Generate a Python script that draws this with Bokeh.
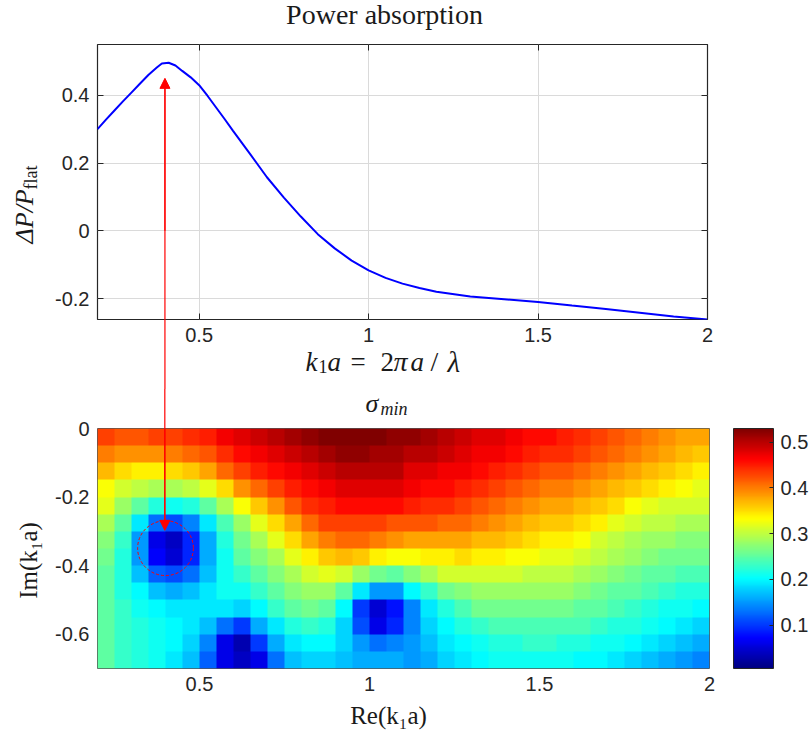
import numpy as np
from bokeh.plotting import figure
from bokeh.layouts import column
from bokeh.core.properties import value
from bokeh.models import (LinearAxis, FixedTicker, LinearColorMapper, ColorBar,
                          Arrow, NormalHead, Range1d)
from bokeh.embed import file_html
from bokeh.resources import INLINE

# ---------------- data ----------------
# top panel: power absorption curve
k1a = [0.200, 0.225, 0.250, 0.275, 0.300, 0.325, 0.350, 0.375, 0.390, 0.410,
       0.430, 0.450, 0.475, 0.500, 0.525, 0.550, 0.575, 0.600, 0.650, 0.700,
       0.750, 0.800, 0.850, 0.900, 0.950, 1.000, 1.050, 1.100, 1.150, 1.200,
       1.300, 1.400, 1.500, 1.600, 1.700, 1.800, 1.900, 2.000]
dP = [0.300, 0.328, 0.355, 0.382, 0.408, 0.434, 0.460, 0.482, 0.494, 0.496,
      0.488, 0.472, 0.453, 0.430, 0.398, 0.364, 0.330, 0.295, 0.227, 0.158,
      0.098, 0.042, -0.010, -0.052, -0.088, -0.117, -0.139, -0.156, -0.169, -0.180,
      -0.194, -0.202, -0.210, -0.221, -0.231, -0.242, -0.253, -0.262]
top_x_range = [0.2, 2.0]
top_y_range = [-0.262, 0.55]
top_xticks = [0.5, 1.0, 1.5, 2.0]
top_xtick_labels = ["0.5", "1", "1.5", "2"]
top_yticks = [-0.2, 0.0, 0.2, 0.4]
top_ytick_labels = ["-0.2", "0", "0.2", "0.4"]

# bottom panel: sigma_min over the complex k1a plane
re_extent = [0.2, 2.0]
im_extent = [-0.7, 0.0]
# rows from Im = -0.025 (top) down to Im = -0.675 (bottom), Re from 0.225 to 1.975
sigma_rows = [
    [0.43,0.42,0.42,0.43,0.43,0.44,0.45,0.47,0.48, 0.49,0.50,0.51,0.52,0.53,0.53,0.53,0.53,0.52,
     0.52,0.51,0.50,0.49,0.48,0.48,0.47,0.46,0.46, 0.45,0.44,0.43,0.42,0.41,0.40,0.39,0.38,0.38],
    [0.40,0.39,0.39,0.39,0.40,0.41,0.42,0.44,0.46, 0.47,0.48,0.49,0.50,0.51,0.52,0.52,0.51,0.51,
     0.50,0.50,0.49,0.48,0.47,0.47,0.46,0.45,0.44, 0.44,0.43,0.42,0.41,0.40,0.39,0.38,0.37,0.36],
    [0.37,0.35,0.34,0.34,0.35,0.36,0.38,0.41,0.43, 0.45,0.46,0.47,0.48,0.49,0.50,0.50,0.50,0.50,
     0.48,0.48,0.47,0.47,0.46,0.45,0.44,0.43,0.42, 0.42,0.41,0.40,0.39,0.38,0.37,0.36,0.35,0.34],
    [0.33,0.31,0.30,0.29,0.29,0.30,0.32,0.35,0.39, 0.41,0.43,0.45,0.46,0.47,0.48,0.48,0.48,0.48,
     0.47,0.46,0.46,0.45,0.44,0.43,0.42,0.41,0.40, 0.40,0.39,0.38,0.37,0.36,0.35,0.34,0.33,0.32],
    [0.32,0.28,0.25,0.22,0.21,0.22,0.25,0.29,0.33, 0.36,0.39,0.42,0.44,0.45,0.46,0.46,0.46,0.46,
     0.45,0.44,0.44,0.43,0.42,0.41,0.40,0.39,0.38, 0.38,0.37,0.36,0.35,0.33,0.32,0.31,0.31,0.31],
    [0.29,0.25,0.19,0.13,0.11,0.14,0.19,0.24,0.28, 0.32,0.35,0.38,0.41,0.43,0.43,0.43,0.43,0.42,
     0.42,0.42,0.41,0.41,0.40,0.39,0.38,0.37,0.36, 0.36,0.35,0.34,0.32,0.31,0.30,0.30,0.29,0.29],
    [0.27,0.23,0.15,0.06,0.04,0.09,0.16,0.22,0.26, 0.29,0.32,0.35,0.38,0.40,0.41,0.41,0.40,0.39,
     0.38,0.38,0.38,0.38,0.37,0.37,0.36,0.35,0.34, 0.34,0.33,0.31,0.30,0.29,0.28,0.28,0.27,0.27],
    [0.26,0.22,0.15,0.07,0.05,0.09,0.16,0.21,0.25, 0.27,0.29,0.32,0.34,0.36,0.37,0.36,0.34,0.33,
     0.33,0.34,0.34,0.35,0.34,0.34,0.33,0.33,0.32, 0.32,0.31,0.30,0.29,0.28,0.27,0.26,0.26,0.26],
    [0.25,0.22,0.17,0.12,0.11,0.13,0.17,0.21,0.23, 0.25,0.27,0.29,0.31,0.32,0.31,0.28,0.26,0.25,
     0.27,0.29,0.31,0.31,0.31,0.31,0.31,0.30,0.30, 0.30,0.29,0.28,0.27,0.26,0.25,0.25,0.24,0.24],
    [0.25,0.22,0.20,0.17,0.16,0.17,0.19,0.21,0.21, 0.23,0.25,0.27,0.28,0.28,0.25,0.19,0.15,0.15,
     0.20,0.23,0.26,0.27,0.28,0.28,0.28,0.28,0.28, 0.28,0.27,0.26,0.25,0.25,0.24,0.23,0.22,0.22],
    [0.25,0.23,0.21,0.20,0.19,0.19,0.19,0.19,0.18, 0.20,0.23,0.25,0.26,0.25,0.20,0.10,0.05,0.08,
     0.14,0.19,0.22,0.24,0.26,0.26,0.26,0.26,0.26, 0.26,0.25,0.25,0.24,0.23,0.22,0.21,0.21,0.20],
    [0.25,0.23,0.22,0.21,0.20,0.19,0.17,0.13,0.10, 0.16,0.19,0.22,0.23,0.22,0.18,0.11,0.06,0.09,
     0.14,0.18,0.20,0.22,0.23,0.24,0.24,0.24,0.24, 0.24,0.24,0.23,0.22,0.22,0.21,0.20,0.19,0.18],
    [0.25,0.23,0.22,0.21,0.20,0.18,0.14,0.06,0.03, 0.10,0.16,0.19,0.20,0.20,0.18,0.15,0.13,0.14,
     0.15,0.17,0.19,0.20,0.21,0.22,0.22,0.23,0.23, 0.22,0.22,0.21,0.21,0.20,0.19,0.18,0.17,0.16],
    [0.25,0.23,0.22,0.21,0.19,0.17,0.12,0.06,0.04, 0.06,0.13,0.17,0.18,0.18,0.17,0.16,0.16,0.16,
     0.15,0.16,0.18,0.19,0.20,0.21,0.21,0.21,0.21, 0.21,0.20,0.20,0.19,0.18,0.17,0.16,0.15,0.14],
]
sigma_range = [0.005, 0.53]
bot_xticks = [0.5, 1.0, 1.5, 2.0]
bot_xtick_labels = ["0.5", "1", "1.5", "2"]
bot_yticks = [0.0, -0.2, -0.4, -0.6]
bot_ytick_labels = ["0", "-0.2", "-0.4", "-0.6"]
cb_ticks = [0.1, 0.2, 0.3, 0.4, 0.5]
cb_tick_labels = ["0.1", "0.2", "0.3", "0.4", "0.5"]

# ---------------- layout / style ----------------
SANS = "Liberation Sans"
SERIF = "Liberation Serif"
INK = "#262626"
TXT = "#1a1a1a"
TICK_PX = "20px"
RED = "#ff0000"
BASE_FIX = 9  # svg text baseline correction (pixels)

# top figure frame (page pixels)
L1, T1, W1, H1, B1, R1 = 97, 44, 610, 275, 70, 98
# bottom figure frame (page pixels)
L2, T2, W2, H2, B2, R2 = 97, 428, 612, 240, 66, 100
TOP_H = T1 + H1 + B1


def jet_palette(n=256):
    cols = []
    for i in range(n):
        t = i / (n - 1)
        r = min(max(1.5 - abs(4 * t - 3), 0), 1)
        g = min(max(1.5 - abs(4 * t - 2), 0), 1)
        b = min(max(1.5 - abs(4 * t - 1), 0), 1)
        cols.append("#%02x%02x%02x" % (int(round(r * 255)), int(round(g * 255)), int(round(b * 255))))
    return cols


def style_axis(ax, ticks, labels, tick_in):
    ax.ticker = FixedTicker(ticks=ticks)
    ax.major_label_overrides = {t: l for t, l in zip(ticks, labels)}
    ax.minor_tick_line_color = None
    ax.major_tick_in = tick_in
    ax.major_tick_out = 0
    ax.major_tick_line_color = INK
    ax.axis_line_color = None
    ax.major_label_text_font = SANS
    ax.major_label_text_font_size = TICK_PX
    ax.major_label_text_color = INK
    ax.major_label_standoff = 8


def page_text(p, xr, yr, frame, px, py, text, size, style="normal", angle=0.0, align="left"):
    """Text with its baseline at page pixel (px, py), anchored on the frame centre via pixel offsets."""
    L, T, W, H = frame
    cx, cy = L + W / 2, T + H / 2
    if angle:
        px -= BASE_FIX
    else:
        py -= BASE_FIX
    r = p.text(x=[(xr[0] + xr[1]) / 2], y=[(yr[0] + yr[1]) / 2], text=[text],
               x_offset=px - cx, y_offset=py - cy, angle=angle,
               text_font=value(SERIF), text_font_size=value(size),
               text_font_style=value(style), text_color=TXT,
               text_align=value(align), text_baseline=value("alphabetic"))
    r.level = "overlay"
    return r


# ---------------- top figure ----------------
p1 = figure(frame_width=W1, frame_height=H1,
            min_border_left=L1, min_border_right=R1, min_border_top=T1,
            min_border_bottom=B1,
            x_range=Range1d(*top_x_range), y_range=Range1d(*top_y_range),
            output_backend="svg", toolbar_location=None, title=None)
p1.background_fill_color = "white"
p1.border_fill_color = "white"
p1.outline_line_color = INK
p1.outline_line_width = 1.2
style_axis(p1.xaxis[0], top_xticks, top_xtick_labels, 6)
style_axis(p1.yaxis[0], top_yticks, top_ytick_labels, 6)
p1.xgrid.ticker = FixedTicker(ticks=top_xticks)
p1.ygrid.ticker = FixedTicker(ticks=top_yticks)
p1.grid.grid_line_color = "#dadada"
p1.grid.grid_line_width = 1

for side, ticks in (("above", top_xticks), ("right", top_yticks)):
    ax = LinearAxis()
    style_axis(ax, ticks, ["" for _ in ticks], 6)
    ax.major_label_text_font_size = "0px"
    ax.major_label_standoff = 0
    p1.add_layout(ax, side)

p1.line(k1a, dP, line_color="#0000ff", line_width=2)

f1 = (L1, T1, W1, H1)
page_text(p1, top_x_range, top_y_range, f1, 384, 23, "Power absorption", "28px", align="center")
# x label  k1a = 2πa/λ
for px, py, s, size, style in ((305, 370, "k", "27px", "italic"), (318, 375, "1", "18px", "normal"),
                               (327, 370, "a", "27px", "italic"), (350, 370, "=", "27px", "normal"),
                               (380, 370, "2", "27px", "normal"), (393, 370, "π", "28px", "italic"),
                               (410, 370, "a", "27px", "italic"), (430, 370, "/", "28px", "normal"),
                               (447, 370, "λ", "29px", "italic")):
    page_text(p1, top_x_range, top_y_range, f1, px, py, s, size, style=style)
# y label  ΔP/P_flat
page_text(p1, top_x_range, top_y_range, f1, 33, 243, "ΔP/P", "26px", style="italic", angle=np.pi / 2)
page_text(p1, top_x_range, top_y_range, f1, 39, 189, "flat", "18px", angle=np.pi / 2)

# marker line linking the absorption peak to the resonance in the lower panel
ARROW_X_TOP, ARROW_TIP_TOP = 0.399, 0.45
ARROW_X_BOT, ARROW_TIP_BOT = 0.398, -0.297
head = dict(size=10, fill_color=RED, line_color=RED, line_width=1)
seg1 = p1.segment(x0=[ARROW_X_TOP], y0=[ARROW_TIP_TOP - 0.01], x1=[ARROW_X_TOP], y1=[-0.8],
                  line_color=RED, line_width=1.2)
seg1.level = "overlay"
p1.add_layout(Arrow(end=NormalHead(**head), x_start=ARROW_X_TOP, y_start=0.0,
                    x_end=ARROW_X_TOP, y_end=ARROW_TIP_TOP, line_color=RED, line_width=1.2))

# ---------------- bottom figure ----------------
mapper = LinearColorMapper(palette=jet_palette(), low=sigma_range[0], high=sigma_range[1])
img = np.array(sigma_rows[::-1], dtype=float)

p2 = figure(frame_width=W2, frame_height=H2,
            min_border_left=L2, min_border_right=R2, min_border_top=T2 - TOP_H,
            min_border_bottom=B2,
            x_range=Range1d(*re_extent), y_range=Range1d(*im_extent),
            output_backend="svg", toolbar_location=None, title=None)
p2.background_fill_color = "white"
p2.border_fill_color = "white"
p2.outline_line_color = "#555555"
p2.outline_line_width = 1
p2.grid.grid_line_color = None
style_axis(p2.xaxis[0], bot_xticks, bot_xtick_labels, 0)
style_axis(p2.yaxis[0], bot_yticks, bot_ytick_labels, 0)

p2.image(image=[img], x=re_extent[0], y=im_extent[0],
         dw=re_extent[1] - re_extent[0], dh=im_extent[1] - im_extent[0], color_mapper=mapper)

p2.ellipse(x=0.40, y=-0.349, width=0.164, height=0.16, fill_color=None,
           line_color=RED, line_width=1, line_dash="3 2")
seg2 = p2.segment(x0=[ARROW_X_BOT], y0=[0.5], x1=[ARROW_X_BOT], y1=[ARROW_TIP_BOT + 0.01],
                  line_color=RED, line_width=1.2)
seg2.level = "overlay"
p2.add_layout(Arrow(end=NormalHead(**head), x_start=ARROW_X_BOT, y_start=0.0,
                    x_end=ARROW_X_BOT, y_end=ARROW_TIP_BOT, line_color=RED, line_width=1.2))

cb = ColorBar(color_mapper=mapper, ticker=FixedTicker(ticks=cb_ticks),
              major_label_overrides={t: l for t, l in zip(cb_ticks, cb_tick_labels)},
              width=40, height=H2, padding=0, margin=0, label_standoff=7,
              bar_line_color=INK, bar_line_width=1,
              major_tick_line_color=INK, major_tick_in=4, major_tick_out=0,
              minor_tick_line_color=None,
              major_label_text_font=SANS, major_label_text_font_size=TICK_PX,
              major_label_text_color=INK,
              border_line_color=None, background_fill_color=None, location=(24, 0))
p2.add_layout(cb, "right")

f2 = (L2, T2 - TOP_H, W2, H2)
page_text(p2, re_extent, im_extent, f2, 365, 412 - TOP_H, "σ", "26px", style="italic")
page_text(p2, re_extent, im_extent, f2, 380, 417 - TOP_H, "min", "18px", style="italic")
page_text(p2, re_extent, im_extent, f2, 388, 724 - TOP_H, "Re(k₁a)", "25px", align="center")
page_text(p2, re_extent, im_extent, f2, 37, 560 - TOP_H, "Im(k₁a)", "25px", angle=np.pi / 2, align="center")

layout = column(p1, p2, spacing=0)
open("out.html", "w").write(file_html(layout, INLINE))
